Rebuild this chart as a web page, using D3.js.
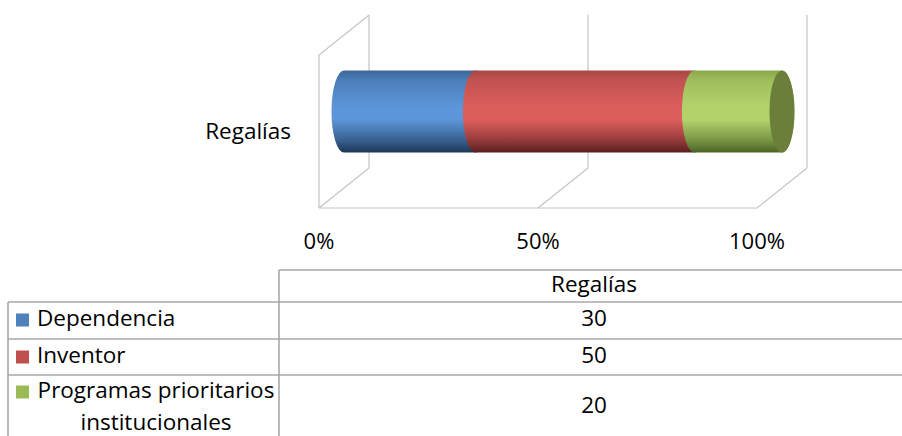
<!DOCTYPE html>
<html>
<head>
<meta charset="utf-8">
<script src="https://cdn.jsdelivr.net/npm/d3@7"></script>
<style>
  body { margin: 0; background: #fff; }
  text { font-family: "Open Sans", sans-serif; fill: #000; }
</style>
</head>
<body>
<div id="chart"></div>
<script>
// data
const categories = ["Regalías"];
const seriesNames = ["Dependencia", "Inventor", "Programas prioritarios institucionales"];
const seriesValues = [30, 50, 20];
const tickValues = [0, 50, 100];
const tickLabels = ["0%", "50%", "100%"];

const width = 902, height = 436;

// colours: top edge, light middle, bottom shade
const palette = [
  { mid: "#5c96d8", top: "#3b6699", bot: "#1d3655", swatch: "#4f81bd" },
  { mid: "#dc5e5c", top: "#a84644", bot: "#5a1f1f", swatch: "#c0504d" },
  { mid: "#b2d36c", top: "#8aa84b", bot: "#4b6324", swatch: "#9bbb59", cap: "#6b7f3b" }
];

const svg = d3.select("#chart").append("svg")
  .attr("width", width)
  .attr("height", height);

const defs = svg.append("defs");
palette.forEach((p, i) => {
  const g = defs.append("linearGradient")
    .attr("id", "grad" + i)
    .attr("x1", 0).attr("y1", 0).attr("x2", 0).attr("y2", 1);
  [[0, p.top], [0.12, d3.interpolateRgb(p.top, p.mid)(0.5)], [0.45, p.mid], [0.6, p.mid],
   [0.85, d3.interpolateRgb(p.mid, p.bot)(0.55)], [1, p.bot]]
    .forEach(s => g.append("stop").attr("offset", s[0]).attr("stop-color", s[1]));
});

// 3d frame
const x = d3.scaleLinear().domain([0, 100]).range([319, 757]);
const depth = { dx: 50, dy: -40 };
const floorY = 208, wallTop = 55;
const gridColor = "#c4c4c4";

const frame = svg.append("g")
  .attr("stroke", gridColor)
  .attr("stroke-width", 1.2)
  .attr("fill", "none");

// back wall gridlines
frame.selectAll(".grid")
  .data(tickValues)
  .join("line")
  .attr("x1", d => x(d) + depth.dx).attr("x2", d => x(d) + depth.dx)
  .attr("y1", wallTop + depth.dy).attr("y2", floorY + depth.dy);

// floor diagonals
frame.selectAll(".floor")
  .data(tickValues)
  .join("line")
  .attr("x1", d => x(d) + depth.dx).attr("y1", floorY + depth.dy)
  .attr("x2", d => x(d)).attr("y2", floorY);

// floor front edge
frame.append("line")
  .attr("x1", x(0)).attr("x2", x(100))
  .attr("y1", floorY).attr("y2", floorY);

// side wall
frame.append("path")
  .attr("d", `M${x(0)},${floorY}V${wallTop}L${x(0) + depth.dx},${wallTop + depth.dy}`);

// stacked cylinder
const stackData = [Object.fromEntries(seriesNames.map((s, i) => [s, seriesValues[i]]))];
const total = d3.sum(seriesValues);
const stacked = d3.stack().keys(seriesNames)(stackData);

const cx = v => x(v / total * 100) + depth.dx / 2;
const cy = (wallTop + floorY) / 2 + depth.dy / 2;
const ry = 41, rx = 12.5;

const bars = svg.append("g");
stacked.forEach((s, i) => {
  const x0 = cx(s[0][0]), x1 = cx(s[0][1]);
  bars.append("path")
    .attr("d", `M${x0},${cy - ry}L${x1},${cy - ry}` +
      `A${rx},${ry} 0 0 1 ${x1},${cy + ry}L${x0},${cy + ry}` +
      `A${rx},${ry} 0 0 1 ${x0},${cy - ry}Z`)
    .attr("fill", `url(#grad${i})`);
  if (i === stacked.length - 1) {
    bars.append("ellipse")
      .attr("cx", x1).attr("cy", cy)
      .attr("rx", rx).attr("ry", ry)
      .attr("fill", palette[i].cap);
  }
});

// category label
svg.append("text")
  .attr("x", 291).attr("y", 133)
  .attr("text-anchor", "end")
  .attr("dominant-baseline", "middle")
  .attr("font-size", 22.5)
  .text(categories[0]);

// axis labels
svg.selectAll(".tick")
  .data(tickValues)
  .join("text")
  .attr("x", d => x(d))
  .attr("y", 243)
  .attr("text-anchor", "middle")
  .attr("dominant-baseline", "middle")
  .attr("font-size", 22)
  .text((d, i) => tickLabels[i]);

// data table
const tbl = svg.append("g");
const colX = 279, leftX = 8, rightX = 902;
const rowY = [270, 302, 339, 375];
const lineColor = "#a8a8a8";

tbl.append("line").attr("x1", colX).attr("x2", rightX).attr("y1", rowY[0]).attr("y2", rowY[0]);
rowY.slice(1).forEach(y => {
  tbl.append("line").attr("x1", leftX).attr("x2", rightX).attr("y1", y).attr("y2", y);
});
tbl.append("line").attr("x1", colX).attr("x2", colX).attr("y1", rowY[0]).attr("y2", height);
tbl.append("line").attr("x1", leftX).attr("x2", leftX).attr("y1", rowY[1]).attr("y2", height);
tbl.selectAll("line").attr("stroke", lineColor).attr("stroke-width", 1.6);

const fs = 22.5;
const valX = 594;
tbl.append("text")
  .attr("x", valX).attr("y", 286)
  .attr("text-anchor", "middle").attr("dominant-baseline", "middle")
  .attr("font-size", fs)
  .text(categories[0]);

const rowCenters = [320, 357, 407];
seriesNames.forEach((name, i) => {
  const yc = rowCenters[i];
  tbl.append("rect")
    .attr("x", 16).attr("y", (i < 2 ? yc : 392) - 6.5)
    .attr("width", 13).attr("height", 13)
    .attr("fill", palette[i].swatch);
  if (i < 2) {
    tbl.append("text")
      .attr("x", 37).attr("y", yc)
      .attr("dominant-baseline", "middle")
      .attr("font-size", fs)
      .text(name);
  } else {
    const t = tbl.append("text")
      .attr("text-anchor", "middle")
      .attr("font-size", fs);
    t.append("tspan").attr("x", 156).attr("y", 392).attr("dominant-baseline", "middle").text("Programas prioritarios");
    t.append("tspan").attr("x", 156).attr("y", 424).attr("dominant-baseline", "middle").text("institucionales");
  }
  tbl.append("text")
    .attr("x", valX).attr("y", yc)
    .attr("text-anchor", "middle").attr("dominant-baseline", "middle")
    .attr("font-size", fs)
    .text(seriesValues[i]);
});
</script>
</body>
</html>
